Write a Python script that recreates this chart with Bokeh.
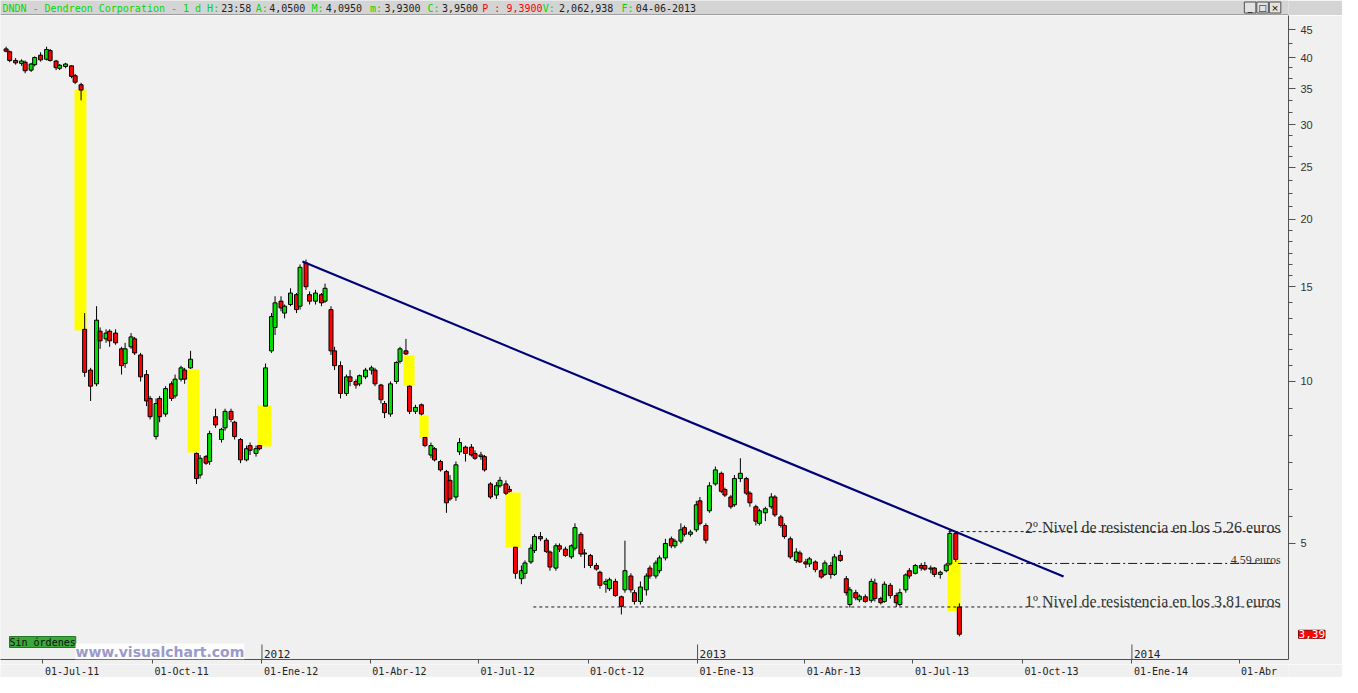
import math
import numpy as np
import pandas as pd
from bokeh.plotting import figure
from bokeh.layouts import column
from bokeh.models import Range1d, FixedTicker, PrintfTickFormatter, Label, ColumnDataSource
from bokeh.core.properties import value
from bokeh.embed import file_html
from bokeh.resources import INLINE

# ---------------------------------------------------------------- data
# daily DNDN bars, one candle drawn every 3 sessions
candle_start = "2011-05-31"
candle_step = "3B"

opens = [41.5, 41.0, 39.5, 39.0, 39.2, 37.9, 38.8, 40.4, 39.7, 41.2,
         39.4, 38.2, 38.5, 38.6, 37.0, 35.6, 12.5, 10.5, 9.9, 12.4,
         12.0, 12.4, 12.3, 11.5, 10.8, 11.6, 12.0, 11.2, 10.3, 9.3,
         7.9, 9.3, 8.7, 9.9, 9.4, 10.1, 10.5, 10.6, 7.35, 6.7,
         7.25, 7.1, 8.6, 7.8, 8.2, 8.8, 8.4, 7.8, 7.15, 7.6,
         7.35, 7.6, 9.0, 11.4, 12.6, 14.1, 13.4, 13.9, 14.5, 13.8,
         16.6, 14.5, 14.1, 14.5, 14.1, 13.6, 11.4, 10.7, 9.5, 10.2,
         10.0, 9.9, 10.2, 10.5, 10.5, 9.85, 9.1, 8.7, 10.0, 10.9,
         11.4, 9.8, 8.8, 9.05, 7.87, 7.3, 7.5, 7.1, 6.8, 6.55,
         6.1, 7.4, 7.55, 7.55, 7.35, 7.25, 7.25, 6.45, 6.15, 6.4,
         6.45, 6.3, 4.92, 4.3, 4.4, 4.62, 4.85, 5.15, 5.07, 4.82,
         4.5, 4.95, 4.88, 4.72, 4.9, 5.2, 4.78, 4.75, 4.55, 4.42,
         4.2, 4.12, 4.25, 3.98, 4.1, 4.35, 4.05, 3.9, 4.1, 4.5,
         4.35, 4.45, 4.7, 5.1, 4.95, 5.05, 5.35, 5.2, 5.3, 6.0,
         5.4, 5.75, 6.45, 6.75, 6.3, 6.1, 5.9, 6.6, 6.6, 6.2,
         5.85, 5.45, 5.7, 5.85, 6.1, 5.6, 5.4, 5.1, 4.65, 4.8,
         4.62, 4.58, 4.62, 4.45, 4.38, 4.55, 4.38, 4.75, 4.3, 3.85,
         4.05, 3.93, 3.98, 3.92, 4.22, 3.95, 3.9, 4.18, 4.0, 3.85,
         4.1, 4.45, 4.4, 4.55, 4.55, 4.48, 4.5, 4.38, 4.45, 4.58,
         5.22, 3.81]
highs = [41.9, 41.2, 39.9, 39.7, 39.5, 39.1, 40.2, 40.9, 41.9, 41.5,
         39.6, 38.9, 39.1, 38.7, 37.3, 35.9, 13.4, 10.6, 13.8, 12.6,
         12.5, 12.5, 12.5, 11.6, 11.8, 12.3, 12.1, 11.3, 10.5, 9.4,
         9.3, 9.4, 9.8, 10.0, 10.3, 10.7, 10.6, 11.4, 7.38, 7.3,
         7.3, 8.1, 8.9, 8.2, 8.9, 8.9, 8.45, 7.85, 7.6, 7.7,
         7.6, 7.62, 10.8, 13.4, 14.4, 14.4, 13.9, 14.9, 14.6, 16.5,
         16.85, 14.7, 14.8, 14.6, 15.2, 13.8, 11.6, 10.9, 10.3, 10.5,
         10.1, 10.3, 10.6, 10.7, 10.6, 9.9, 9.2, 10.0, 10.9, 11.6,
         12.0, 9.83, 9.05, 9.1, 7.87, 7.7, 7.55, 7.15, 6.85, 6.7,
         7.1, 7.85, 7.6, 7.65, 7.45, 7.4, 7.3, 6.5, 6.5, 6.65,
         6.55, 6.4, 4.92, 4.55, 4.65, 4.98, 5.2, 5.25, 5.12, 4.85,
         5.0, 5.0, 4.93, 4.98, 5.45, 5.25, 4.88, 4.78, 4.6, 4.45,
         4.3, 4.32, 4.3, 4.0, 5.06, 4.4, 4.1, 4.25, 4.4, 4.55,
         4.65, 4.75, 5.1, 5.15, 5.1, 5.45, 5.4, 5.3, 6.0, 6.1,
         5.45, 6.5, 6.95, 6.8, 6.35, 6.15, 6.7, 7.2, 6.65, 6.25,
         5.9, 5.8, 5.85, 6.2, 6.15, 5.65, 5.45, 5.15, 4.9, 4.85,
         4.68, 4.72, 4.65, 4.48, 4.65, 4.62, 4.78, 4.85, 4.35, 4.15,
         4.1, 4.02, 4.02, 4.3, 4.3, 3.98, 4.25, 4.22, 4.05, 4.12,
         4.4, 4.5, 4.58, 4.6, 4.62, 4.55, 4.52, 4.45, 4.6, 5.3,
         5.26, 3.87]
lows = [40.9, 39.2, 38.8, 38.6, 37.4, 37.6, 38.5, 39.3, 39.5, 39.3,
        37.9, 37.9, 38.2, 36.6, 35.7, 33.3, 10.2, 9.2, 9.8, 11.5,
        11.8, 11.6, 11.7, 10.3, 10.6, 11.5, 11.2, 10.0, 9.0, 8.5,
        7.8, 8.4, 8.6, 9.2, 9.3, 10.0, 9.9, 10.55, 6.45, 6.6,
        7.0, 7.0, 8.2, 7.7, 8.1, 8.4, 7.8, 7.05, 7.1, 7.3,
        7.25, 7.45, 9.0, 11.3, 12.2, 13.5, 13.1, 13.8, 13.4, 13.6,
        14.8, 13.9, 13.9, 13.8, 14.0, 11.2, 10.5, 9.3, 9.4, 9.8,
        9.7, 9.8, 10.1, 10.3, 9.8, 9.1, 8.55, 8.6, 9.9, 10.8,
        11.2, 8.7, 8.7, 8.65, 7.55, 7.2, 7.1, 6.8, 5.7, 6.0,
        6.0, 7.3, 7.1, 7.25, 7.15, 7.15, 6.8, 6.05, 6.05, 6.35,
        6.15, 6.22, 4.3, 4.2, 4.3, 4.58, 4.8, 5.05, 4.8, 4.45,
        4.45, 4.82, 4.72, 4.68, 4.85, 4.72, 4.5, 4.5, 4.45, 4.12,
        4.05, 4.08, 3.98, 3.69, 4.05, 4.05, 3.85, 3.85, 4.0, 4.3,
        4.3, 4.4, 4.65, 4.9, 4.9, 5.0, 5.15, 5.15, 5.25, 5.4,
        5.0, 5.7, 6.4, 6.2, 6.1, 5.8, 5.85, 6.5, 6.15, 5.85,
        5.4, 5.4, 5.5, 5.8, 5.6, 5.35, 5.1, 4.68, 4.6, 4.6,
        4.5, 4.52, 4.42, 4.3, 4.35, 4.3, 4.35, 4.62, 4.0, 3.8,
        3.92, 3.89, 3.88, 3.88, 3.9, 3.85, 3.88, 3.95, 3.81, 3.82,
        4.05, 4.3, 4.38, 4.45, 4.45, 4.4, 4.33, 4.3, 4.42, 4.55,
        4.62, 3.36]
closes = [41.1, 39.5, 39.1, 39.4, 37.8, 38.9, 40.0, 39.6, 41.4, 39.5,
          38.3, 38.7, 38.9, 36.9, 36.0, 34.8, 10.4, 9.8, 13.0, 11.9,
          12.3, 11.9, 11.8, 10.7, 11.5, 12.1, 11.3, 10.2, 9.2, 8.6,
          9.1, 8.6, 9.7, 9.3, 10.1, 10.6, 10.1, 11.0, 6.6, 7.2,
          7.05, 8.0, 8.3, 8.15, 8.8, 8.5, 7.9, 7.15, 7.5, 7.45,
          7.5, 7.5, 10.6, 13.2, 14.0, 13.7, 13.8, 14.6, 13.6, 16.3,
          15.0, 14.1, 14.6, 14.0, 14.9, 11.4, 10.7, 9.5, 10.2, 10.0,
          9.85, 10.25, 10.5, 10.6, 9.9, 9.25, 8.75, 9.9, 10.85, 11.5,
          11.25, 8.8, 8.95, 8.7, 7.6, 7.6, 7.15, 6.85, 5.95, 6.05,
          7.0, 7.7, 7.35, 7.3, 7.2, 7.3, 6.85, 6.1, 6.4, 6.55,
          6.2, 6.25, 4.4, 4.45, 4.6, 4.9, 5.15, 5.1, 4.83, 4.52,
          4.95, 4.88, 4.75, 4.95, 5.35, 4.78, 4.8, 4.55, 4.48, 4.18,
          4.25, 4.28, 4.0, 3.82, 4.45, 4.1, 3.9, 4.15, 4.35, 4.35,
          4.6, 4.7, 5.0, 4.95, 5.05, 5.3, 5.2, 5.25, 5.9, 5.45,
          5.07, 6.4, 6.85, 6.25, 6.15, 5.85, 6.6, 6.75, 6.2, 5.95,
          5.5, 5.75, 5.8, 6.1, 5.65, 5.4, 5.15, 4.72, 4.82, 4.62,
          4.58, 4.68, 4.47, 4.33, 4.6, 4.38, 4.72, 4.65, 4.05, 4.1,
          3.96, 3.99, 3.9, 4.25, 3.95, 3.88, 4.2, 4.0, 3.88, 4.05,
          4.37, 4.35, 4.55, 4.5, 4.48, 4.5, 4.38, 4.42, 4.56, 5.22,
          4.67, 3.39]

# price gaps highlighted in yellow
gap_start = ["2011-07-27T12:00", "2011-10-30T09:00", "2011-12-28T07:00", "2012-04-29T00:00",
             "2012-05-12T10:00", "2012-07-23T17:00", "2013-07-30T02:00"]
gap_end = ["2011-08-06T12:00", "2011-11-09T12:00", "2012-01-09T00:00", "2012-05-08T05:00",
           "2012-05-20T00:00", "2012-08-05T07:00", "2013-08-10T00:00"]
gap_top = [34.9, 10.53, 9.02, 11.18, 8.65, 6.22, 4.67]
gap_bottom = [12.44, 7.38, 7.57, 9.83, 7.87, 4.92, 3.74]

# bearish trend line
trend_dates = ["2012-02-04T00:00", "2013-11-04T14:00"]
trend_prices = [16.71, 4.34]

# resistance / support levels
level_prices = [5.26, 4.59, 3.81]
level_start = ["2013-07-31T00:00", "2013-08-08T00:00", "2012-08-16T00:00"]
level_end = "2014-05-06T00:00"
level_texts = ["2º Nivel de resistencia en los 5.26 euros", "4.59 euros",
               "1º Nivel de resistencia en los 3.81 euros"]

last_price = 3.39
last_price_label = "3,39"
last_price_tag_date = "2014-05-21T00:00"

x_tick_dates = ["2011-07-01", "2011-10-01", "2012-01-01", "2012-04-01", "2012-07-01", "2012-10-01",
                "2013-01-01", "2013-04-01", "2013-07-01", "2013-10-01", "2014-01-01", "2014-04-01"]
x_tick_labels = ["01-Jul-11", "01-Oct-11", "01-Ene-12", "01-Abr-12", "01-Jul-12", "01-Oct-12",
                 "01-Ene-13", "01-Abr-13", "01-Jul-13", "01-Oct-13", "01-Ene-14", "01-Abr"]
year_dates = ["2012-01-01", "2013-01-01", "2014-01-01"]
year_labels = ["2012", "2013", "2014"]
y_ticks = [5, 10, 15, 20, 25, 30, 35, 40, 45]

header_parts = ["DNDN - Dendreon Corporation -  1 d H:", "23:58", "A:", "4,0500", "M:", "4,0950",
                "m:", "3,9300", "C:", "3,9500", "P : 9,3900", "V:", "2,062,938", "F:", "04-06-2013"]
header_kinds = ["key", "val", "key", "val", "key", "val", "key", "val", "key", "val",
                "hi", "key", "val", "key", "val"]

# ---------------------------------------------------------------- layout
def ms(s):
    return pd.Timestamp(s).value / 1e6

W = 1342
H_HEAD, H_MAIN, H_AXIS = 15, 649, 13
RIGHT, BOTTOM = 54, 5
Y_LO, Y_HI = 3.043, 47.88
X_LO, X_HI = ms("2011-05-26T07:00"), ms("2014-05-12T14:00")
PX_LN = (H_MAIN - BOTTOM) / math.log(Y_HI / Y_LO)
PX_DAY = (W - RIGHT) / ((X_HI - X_LO) / 86400000.0)
BG = "#f0f0f0"
HEAD_BG = "#d4d4d4"
MONO = "DejaVu Sans Mono"

# ---------------------------------------------------------------- header strip
hp = figure(width=W, height=H_HEAD, x_range=Range1d(0, W), y_range=Range1d(0, H_HEAD),
            toolbar_location=None, output_backend="svg", min_border=0,
            x_axis_location=None, y_axis_location=None,
            background_fill_color=HEAD_BG, border_fill_color=HEAD_BG, outline_line_color=None)
hp.grid.visible = False
header_x = [2, 230, 266, 280, 324, 339, 385, 400, 445, 460, 502, 565, 582, 647, 662]
kind_color = {"key": "#00d800", "val": "#1e1e1e", "hi": "#ff0000"}
hp.text(x=header_x, y=[7.5] * len(header_x), text=header_parts,
        text_color=[kind_color[k] for k in header_kinds],
        text_font=value(MONO), text_font_size=value("10px"), text_baseline="middle")
hp.line(x=[0, W], y=[0.5, 0.5], line_color="#6a6a6a", line_width=1)
btn_x = [W - 40, W - 27, W - 14]
hp.rect(x=btn_x, y=[8] * 3, width=12, height=11, fill_color="#e2e2e2", line_color="#505050")
hp.text(x=btn_x, y=[8] * 3, text=["_", "□", "×"], text_align="center", text_baseline="middle",
        text_font=value("DejaVu Sans"), text_font_size=value("9px"), text_color="#000000")

# ---------------------------------------------------------------- main chart
p = figure(width=W, height=H_MAIN, x_axis_type="datetime", y_axis_type="log",
           x_range=Range1d(X_LO, X_HI), y_range=Range1d(Y_LO, Y_HI),
           y_axis_location="right", toolbar_location=None, output_backend="svg",
           min_border_left=0, min_border_right=RIGHT, min_border_top=0, min_border_bottom=BOTTOM,
           background_fill_color=BG, border_fill_color=BG, outline_line_color=None)
p.grid.visible = False

xa = p.xaxis[0]
xa.ticker = FixedTicker(ticks=[ms(d) for d in x_tick_dates])
xa.major_tick_out = 4
xa.major_tick_in = 0
xa.minor_tick_line_color = None
xa.major_label_text_font_size = "1px"
xa.major_label_text_color = None
xa.major_label_standoff = 0
xa.axis_line_color = "#505050"
xa.major_tick_line_color = "#505050"

subdiv = {5: 6, 10: 6, 15: 6, 20: 4, 25: 4, 30: 3, 35: 3, 40: 2}
minor = []
for a, b in zip(y_ticks[:-1], y_ticks[1:]):
    n = subdiv[a]
    minor += [a * (b / a) ** (k / n) for k in range(1, n)]
ya = p.yaxis[0]
ya.ticker = FixedTicker(ticks=y_ticks, minor_ticks=minor)
ya.formatter = PrintfTickFormatter(format="%d")
ya.major_tick_out = 7
ya.major_tick_in = 0
ya.minor_tick_out = 4
ya.minor_tick_in = 0
ya.axis_line_color = "#505050"
ya.major_tick_line_color = "#505050"
ya.minor_tick_line_color = "#505050"
ya.major_label_standoff = 5
ya.major_label_text_font = "Liberation Sans"
ya.major_label_text_font_size = "11px"
ya.major_label_text_color = "#333333"

# gaps
p.quad(left=[ms(d) for d in gap_start], right=[ms(d) for d in gap_end],
       top=gap_top, bottom=gap_bottom, fill_color="#ffff00", line_color=None)

# candles
dates = pd.bdate_range(candle_start, periods=len(closes), freq=candle_step)
xs = dates.values.astype("datetime64[ms]").astype(np.int64).astype(float)
src = ColumnDataSource(dict(
    x=xs, h=highs, l=lows,
    top=[max(o, c) for o, c in zip(opens, closes)],
    bottom=[min(o, c) for o, c in zip(opens, closes)],
    color=["#00e000" if c >= o else "#ff0000" for o, c in zip(opens, closes)]))
body_w = 4.0 / PX_DAY * 86400000.0
p.segment(x0="x", y0="h", x1="x", y1="l", source=src, line_color="#000000", line_width=1)
p.vbar(x="x", width=body_w, top="top", bottom="bottom", source=src,
       fill_color="color", line_color="#000000", line_width=1)

# levels
level_dash = ["3 3", "9 3 2 3", "3 3"]
level_size = ["16px", "12px", "16px"]
level_lift = [4, 3, 5]
for price, start, txt, dash, size, lift in zip(level_prices, level_start, level_texts,
                                               level_dash, level_size, level_lift):
    p.line(x=[ms(start), ms(level_end)], y=[price, price], line_color="#1a1a1a",
           line_width=1, line_dash=dash)
    p.add_layout(Label(x=ms(level_end), y=price * math.exp(lift / PX_LN), text=txt,
                       text_align="right", text_baseline="alphabetic",
                       text_font="Liberation Serif", text_font_size=size, text_color="#333333"))

# trend line
p.line(x=[ms(d) for d in trend_dates], y=trend_prices, line_color="#000078", line_width=2.2)

# year markers above the time axis
yr_x = [ms(d) for d in year_dates]
p.segment(x0=yr_x, y0=[Y_LO] * len(yr_x), x1=yr_x, y1=[Y_LO * math.exp(15 / PX_LN)] * len(yr_x),
          line_color="#505050", line_width=1)
p.text(x=yr_x, y=[Y_LO * math.exp(2 / PX_LN)] * len(yr_x), text=year_labels, x_offset=2,
       text_baseline="bottom", text_font=value(MONO), text_font_size=value("11px"),
       text_color="#222222")

# status box and watermark
p.add_layout(Label(x=9, y=12, x_units="screen", y_units="screen", text="Sin órdenes",
                   text_font=MONO, text_font_size="10px", text_color="#101010",
                   background_fill_color="#3aa83a", border_line_color="#237a23"))
p.add_layout(Label(x=75, y=0, x_units="screen", y_units="screen", text="www.visualchart.com",
                   text_font="DejaVu Sans", text_font_style="bold", text_font_size="14px",
                   text_color="#9a9acb", background_fill_color="#ffffff", background_fill_alpha=0.85))

# last price tag on the price axis (side panel, so it is not clipped by the frame)
p.add_layout(Label(x=ms(last_price_tag_date), y=last_price, text=last_price_label,
                   text_baseline="middle", text_font=MONO, text_font_size="11px",
                   text_color="#ffffff", background_fill_color="#ff0000",
                   border_line_color="#800000"), "right")

# ---------------------------------------------------------------- time labels
bp = figure(width=W, height=H_AXIS, x_range=p.x_range, y_range=Range1d(0, 1),
            toolbar_location=None, output_backend="svg",
            min_border_left=0, min_border_right=RIGHT, min_border_top=0, min_border_bottom=0,
            x_axis_location=None, y_axis_location=None,
            background_fill_color=BG, border_fill_color=BG, outline_line_color=None)
bp.grid.visible = False
bp.text(x=[ms(d) for d in x_tick_dates], y=[0.5] * len(x_tick_dates), text=x_tick_labels,
        x_offset=2, text_align="left", text_baseline="middle",
        text_font=value(MONO), text_font_size=value("10px"), text_color="#222222")

layout = column(hp, p, bp, spacing=0)
open("out.html", "w", encoding="utf-8").write(file_html(layout, INLINE, title="DNDN"))
